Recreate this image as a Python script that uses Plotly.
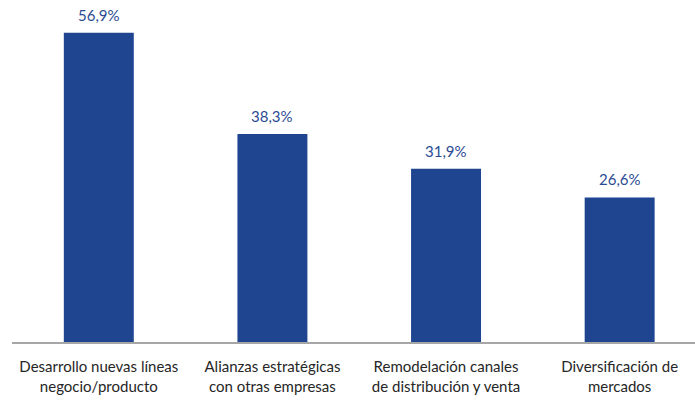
import plotly.graph_objects as go

categories = ["Desarrollo nuevas líneas<br>negocio/producto",
              "Alianzas estratégicas<br>con otras empresas",
              "Remodelación canales<br>de distribución y venta",
              "Diversificación de<br>mercados"]
values = [56.9, 38.3, 31.9, 26.6]
labels = [f"{v:.1f}%".replace(".", ",") for v in values]

BAR = "#1F4591"
TXT = "#2B4C93"
FONT = "Lato, Open Sans, sans-serif"

fig = go.Figure(go.Bar(x=categories, y=values, marker_color=BAR,
                       marker_line_width=0, width=0.403))

for c, v, t in zip(categories, values, labels):
    fig.add_annotation(x=c, y=v, text=t, showarrow=False, yanchor="bottom",
                       yshift=7, font=dict(family=FONT, size=15, color=TXT))

fig.update_layout(
    width=695, height=400,
    margin=dict(l=12, r=0, t=16, b=58, autoexpand=False),
    plot_bgcolor="white", paper_bgcolor="white",
    showlegend=False,
    font=dict(family=FONT, size=14, color="#262626"),
    xaxis=dict(showline=True, linecolor="#A6A6A6", linewidth=2,
               automargin=False, range=[-0.5, 3.434],
               ticks="", tickfont=dict(family=FONT, size=15, color="#262626"),
               ticklabelstandoff=10),
    yaxis=dict(range=[0, 60], visible=False, automargin=False),
)

fig.write_html("out.html", config={"displayModeBar": False},
               post_script="document.body.style.margin='0';document.body.style.overflow='hidden';")
